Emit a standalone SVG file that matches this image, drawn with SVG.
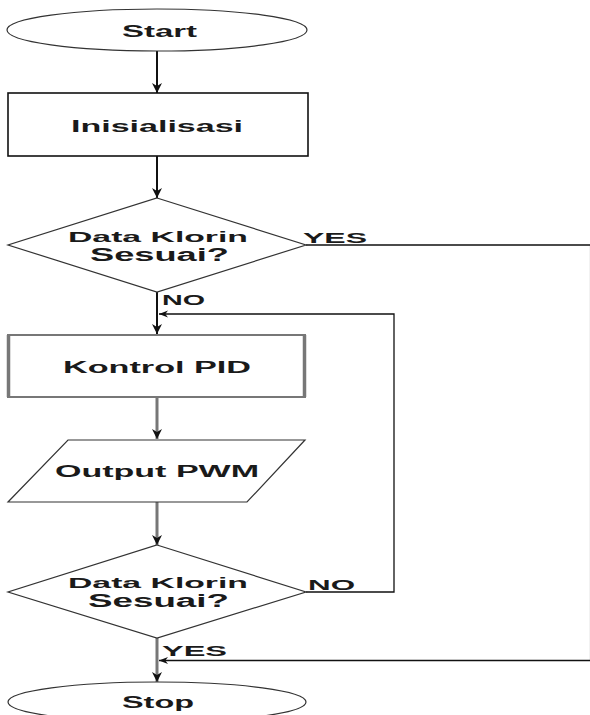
<svg xmlns="http://www.w3.org/2000/svg" width="590" height="715" viewBox="0 0 590 715">
<defs>
<style>
.shape{fill:#fff;stroke:#333;stroke-width:1.2}
.t{font-family:"Liberation Sans",Arial,sans-serif;font-weight:bold;fill:#1a1a1a;text-anchor:middle}
.lbl{font-family:"Liberation Sans",Arial,sans-serif;font-weight:bold;fill:#1a1a1a;text-anchor:start}
.c1{fill:none;stroke:#111;stroke-width:2}
.c2{fill:none;stroke:#777;stroke-width:3}
.c3{fill:none;stroke:#111;stroke-width:1.3}
</style>
<marker id="ah" viewBox="0 0 10 10" refX="10" refY="5" markerWidth="10" markerHeight="10" markerUnits="userSpaceOnUse" orient="auto">
<path d="M0,0 L10,5 L0,10 L3,5 z" fill="#111"/>
</marker>
<marker id="ahs" viewBox="0 0 10 10" refX="10" refY="5" markerWidth="9" markerHeight="9" markerUnits="userSpaceOnUse" orient="auto">
<path d="M0,1 L10,5 L0,9 L3,5 z" fill="#111"/>
</marker>
</defs>
<rect width="590" height="715" fill="#fff"/>
<g id="connectors">
<line class="c1" x1="157" y1="51" x2="157" y2="93" marker-end="url(#ah)"/>
<line class="c1" x1="157" y1="156" x2="157" y2="198" marker-end="url(#ah)"/>
<line class="c1" x1="157" y1="292" x2="157" y2="334" marker-end="url(#ah)"/>
<line class="c2" x1="157" y1="398" x2="157" y2="439" marker-end="url(#ah)"/>
<line class="c2" x1="157" y1="502" x2="157" y2="545" marker-end="url(#ah)"/>
<line class="c2" x1="157" y1="638" x2="157" y2="682" marker-end="url(#ah)"/>
<polyline class="c3" points="306,592 394,592 394,314 159,314" marker-end="url(#ahs)"/>
<polyline class="c3" points="306,245 590.6,245 590.6,660.5 159,660.5" marker-end="url(#ahs)"/>
</g>
<g id="start">
<ellipse class="shape" cx="157" cy="30" rx="150" ry="21"/>
<text class="t" x="159.5" y="37" font-size="16" textLength="75" lengthAdjust="spacingAndGlyphs">Start</text>
</g>
<g id="inisialisasi">
<rect x="8" y="93" width="300" height="63" fill="#fff" stroke="#111" stroke-width="1.6"/>
<text class="t" x="157" y="132" font-size="16" textLength="172" lengthAdjust="spacingAndGlyphs">Inisialisasi</text>
</g>
<g id="decision1">
<polygon class="shape" points="157,198 306,245 157,292 8,245"/>
<text class="t" x="158" y="242" font-size="15.5" textLength="180" lengthAdjust="spacingAndGlyphs">Data Klorin</text>
<text class="t" x="159.5" y="261" font-size="17.5" textLength="139" lengthAdjust="spacingAndGlyphs">Sesuai?</text>
<text class="lbl" x="303" y="243" font-size="15" textLength="64" lengthAdjust="spacingAndGlyphs">YES</text>
<text class="lbl" x="162" y="305" font-size="15" textLength="43" lengthAdjust="spacingAndGlyphs">NO</text>
</g>
<g id="kontrol">
<rect x="8" y="335" width="297" height="62" fill="#fff" stroke="#777" stroke-width="2"/>
<line x1="8.5" y1="335" x2="8.5" y2="397" stroke="#777" stroke-width="3.5"/>
<line x1="304.5" y1="335" x2="304.5" y2="397" stroke="#777" stroke-width="3.5"/>
<text class="t" x="157" y="373" font-size="16" textLength="188" lengthAdjust="spacingAndGlyphs">Kontrol PID</text>
</g>
<g id="output">
<polygon class="shape" points="68,440 305,440 247,502 8,502"/>
<text class="t" x="157" y="477" font-size="16" textLength="204" lengthAdjust="spacingAndGlyphs">Output PWM</text>
</g>
<g id="decision2">
<polygon class="shape" points="157,545 306,592 157,638 8,592"/>
<text class="t" x="158" y="588" font-size="15.5" textLength="180" lengthAdjust="spacingAndGlyphs">Data Klorin</text>
<text class="t" x="158.5" y="607" font-size="17.5" textLength="141" lengthAdjust="spacingAndGlyphs">Sesuai?</text>
<text class="lbl" x="308" y="590" font-size="15" textLength="47" lengthAdjust="spacingAndGlyphs">NO</text>
<text class="lbl" x="162" y="656" font-size="15" textLength="65" lengthAdjust="spacingAndGlyphs">YES</text>
</g>
<g id="stop">
<ellipse class="shape" cx="157" cy="702" rx="149" ry="20"/>
<text class="t" x="158" y="708" font-size="16" textLength="72" lengthAdjust="spacingAndGlyphs">Stop</text>
</g>
</svg>
